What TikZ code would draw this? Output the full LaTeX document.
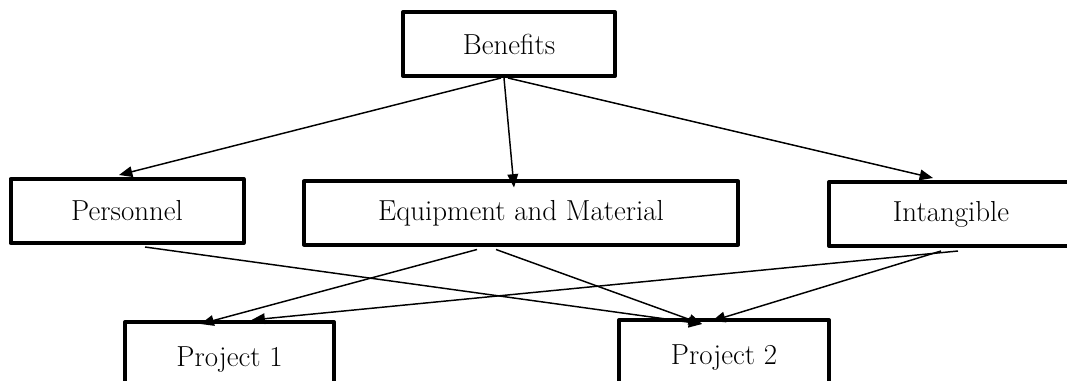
\documentclass[tikz,border=0pt]{standalone}
\usetikzlibrary{arrows.meta,calc}
\begin{document}
\begin{tikzpicture}[x=0.75pt,y=-0.75pt,
  box/.style={draw=black,line width=3pt,line join=round,rectangle,inner sep=0pt,
    font=\fontsize{21.7}{25}\selectfont},
  conn/.style={draw=black,line width=1.1pt,-{Triangle[length=10pt,width=8pt]}}]
\useasboundingbox (0,0) rectangle (1067,381);
\fill[white] (0,0) rectangle (1067,381);
\node[box,minimum width=212*0.75pt,minimum height=64*0.75pt] (ben) at (509,44) {Benefits};
\node[box,minimum width=233*0.75pt,minimum height=64*0.75pt] (per) at (127,211) {Personnel};
\node[box,minimum width=434*0.75pt,minimum height=63*0.75pt] (eqp) at (521,213) {Equipment and Material};
\node[box,minimum width=244*0.75pt,minimum height=64*0.75pt] (int) at (951,214) {Intangible};
\node[box,minimum width=209*0.75pt,minimum height=76*0.75pt] (p1) at (229.5,360) {Project 1};
\node[box,minimum width=210*0.75pt,minimum height=76*0.75pt] (p2) at (724,358) {Project 2};
% top connectors
\draw[conn] ($(ben.south)+(-8,0)$) -- ($(per.north)+(-8,-2)$);
\draw[conn] ($(ben.south)+(-5,0)$) -- ($(eqp.north)+(-7,8)$);
\draw[conn] ($(ben.south)+(-1,0)$) -- ($(int.north)+(-18,-2)$);
% bottom connectors
\draw[conn] ($(per.south)+(18,2)$) -- ($(p2.north)+(-22,6)$);
\draw[conn] ($(eqp.south)+(-44,3)$) -- ($(p1.north)+(-29,4)$);
\draw[conn] ($(eqp.south)+(-25,3)$) -- ($(p2.north)+(-22,6)$);
\draw[conn] ($(int.south)+(-10,3)$) -- ($(p2.north)+(-12,3)$);
\draw[conn] ($(int.south)+(7,3)$) -- ($(p1.north)+(22,0)$);
\end{tikzpicture}
\end{document}
